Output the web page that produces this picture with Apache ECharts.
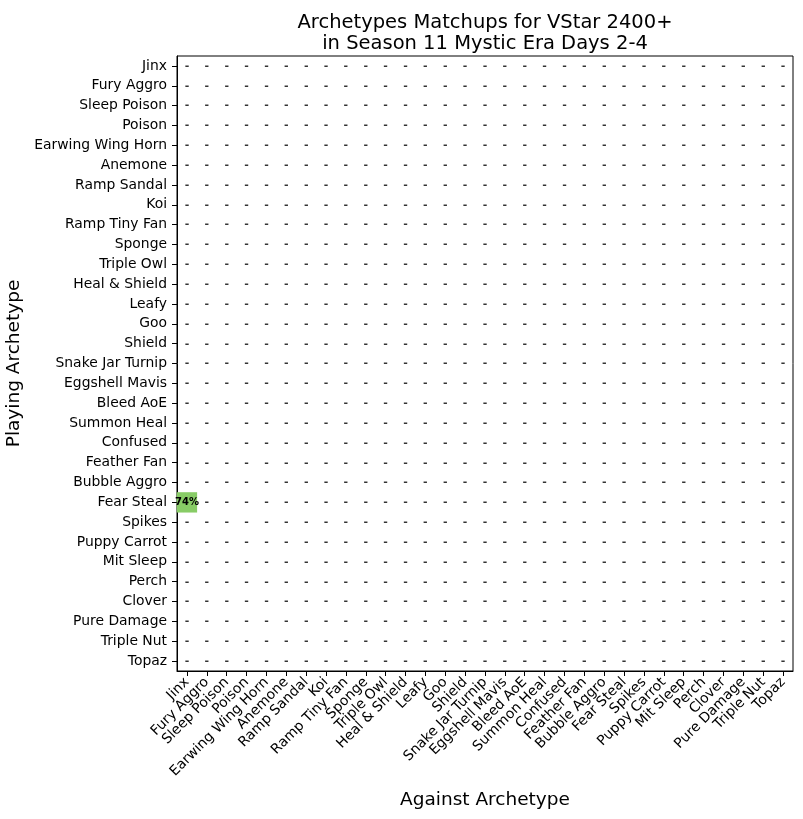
<!DOCTYPE html>
<html>
<head>
<meta charset="utf-8">
<script src="https://cdn.jsdelivr.net/npm/echarts@6/dist/echarts.min.js"></script>
<style>html,body{margin:0;padding:0;background:#fff}#c{width:803px;height:819px}</style>
</head>
<body>
<div id="c"></div>
<script>
const archetypes = ['Jinx','Fury Aggro','Sleep Poison','Poison','Earwing Wing Horn','Anemone','Ramp Sandal','Koi','Ramp Tiny Fan','Sponge','Triple Owl','Heal & Shield','Leafy','Goo','Shield','Snake Jar Turnip','Eggshell Mavis','Bleed AoE','Summon Heal','Confused','Feather Fan','Bubble Aggro','Fear Steal','Spikes','Puppy Carrot','Mit Sleep','Perch','Clover','Pure Damage','Triple Nut','Topaz'];
// [playing, against, win %]
const knownMatchups = [['Fear Steal','Jinx',74]];

const FONT = 'DejaVu Sans';
const filled = [];
const empty = [];
const known = {};
knownMatchups.forEach(m => { known[m[0] + '|' + m[1]] = m[2]; });
archetypes.forEach((p, yi) => {
  archetypes.forEach((a, xi) => {
    const v = known[p + '|' + a];
    if (v !== undefined) filled.push([xi, yi, v]);
    else empty.push([xi, yi]);
  });
});

const chart = echarts.init(document.getElementById('c'));
chart.setOption({
  animation: false,
  title: {
    text: 'Archetypes Matchups for VStar 2400+\nin Season 11 Mystic Era Days 2-4',
    left: 480, top: 7, textAlign: 'center',
    textStyle: {fontFamily: FONT, fontSize: 19.5, fontWeight: 'normal', color: '#000', lineHeight: 21}
  },
  grid: {left: 177, right: 10, top: 56, bottom: 148, containLabel: false, outerBoundsMode: 'none', show: true, borderColor: '#000', borderWidth: 1, backgroundColor: 'transparent'},
  xAxis: {
    type: 'category', data: archetypes,
    name: 'Against Archetype', nameLocation: 'middle', nameGap: 120,
    nameTextStyle: {fontFamily: FONT, fontSize: 18.5, color: '#000'},
    axisLine: {show: true, lineStyle: {color: '#000', width: 1}},
    axisTick: {show: true, alignWithLabel: true, inside: false, length: 5, lineStyle: {color: '#000', width: 1}},
    axisLabel: {rotate: 45, interval: 0, fontFamily: FONT, fontSize: 13.9, color: '#000', margin: 9},
    splitLine: {show: false}
  },
  yAxis: {
    type: 'category', data: archetypes, inverse: true,
    name: 'Playing Archetype', nameLocation: 'middle', nameGap: 152, nameRotate: 90,
    nameTextStyle: {fontFamily: FONT, fontSize: 18.5, color: '#000'},
    axisLine: {show: true, lineStyle: {color: '#000', width: 1}},
    axisTick: {show: true, alignWithLabel: true, inside: false, length: 5, lineStyle: {color: '#000', width: 1}},
    axisLabel: {interval: 0, fontFamily: FONT, fontSize: 13.9, color: '#000', margin: 10},
    splitLine: {show: false}
  },
  series: [
    {
      type: 'heatmap', data: filled,
      itemStyle: {color: '#88cc66'},
      label: {show: true, formatter: p => p.value[2] + '%', fontFamily: FONT, fontSize: 10, fontWeight: 'bold', color: '#000'}
    },
    {
      type: 'scatter', data: empty, symbolSize: 0, silent: true,
      label: {show: true, position: 'inside', formatter: '-', fontFamily: FONT, fontSize: 11, fontWeight: 'bold', color: '#000'}
    }
  ]
});
</script>
</body>
</html>
